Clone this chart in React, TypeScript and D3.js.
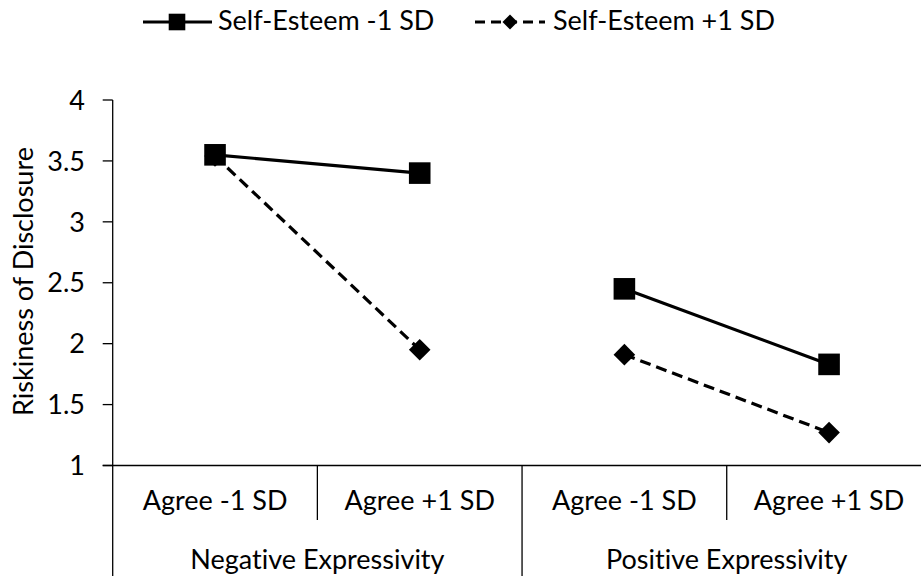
import React from "react";
import * as d3 from "d3";

const categories = ["Agree -1 SD", "Agree +1 SD", "Agree -1 SD", "Agree +1 SD"];
const groups = ["Negative Expressivity", "Positive Expressivity"];
const seriesNames = ["Self-Esteem -1 SD", "Self-Esteem +1 SD"];
const lowSelfEsteem = [3.55, 3.4, 2.45, 1.83];
const highSelfEsteem = [3.54, 1.95, 1.91, 1.27];
const yTicks = [1, 1.5, 2, 2.5, 3, 3.5, 4];

const W = 921;
const H = 576;
const FONT = "Lato, 'Open Sans', sans-serif";
const FS = 27;

export default function App() {
  const idx = categories.map((_, i) => i);
  const x = d3.scaleBand<number>().domain(idx).range([112.7, 931.4]).paddingInner(0).paddingOuter(0);
  const y = d3.scaleLinear().domain([1, 4]).range([465.5, 100]);
  const cx = (i: number) => (x(i) as number) + x.bandwidth() / 2;

  // segments within each group (pairs of categories)
  const segs = (vals: number[]) =>
    groups.map((_, g) => {
      const pts = [g * 2, g * 2 + 1];
      return d3
        .line<number>()
        .x((i) => cx(i))
        .y((i) => y(vals[i]))(pts) as string;
    });

  const x0 = x(0) as number;
  const axisY = y(1);

  const diamond = (px: number, py: number, r: number) =>
    `M${px},${py - r}L${px + r},${py}L${px},${py + r}L${px - r},${py}Z`;

  const textStyle: React.CSSProperties = {
    fontVariantLigatures: "none",
    fontFeatureSettings: '"liga" 0, "clig" 0',
  };

  return (
    <svg
      width={W}
      height={H}
      style={{ position: "absolute", left: 0, top: 0, background: "#fff", ...textStyle }}
      fontFamily={FONT}
    >
      <rect x={0} y={0} width={W} height={H} fill="#fff" />
      {/* Legend */}
      <g>
        <line x1={143} x2={212} y1={22} y2={22} stroke="#000" strokeWidth={3} />
        <rect x={177 - 8.3} y={22 - 8.3} width={16.6} height={16.6} fill="#000" />
        <text x={218} y={30} fontSize={FS} fill="#000" style={textStyle}>
          {seriesNames[0]}
        </text>
        <line x1={475} x2={545} y1={22} y2={22} stroke="#000" strokeWidth={3} strokeDasharray="10,6" />
        <path d={diamond(510, 22, 7.5)} fill="#000" />
        <text x={553} y={30} fontSize={FS} fill="#000" style={textStyle}>
          {seriesNames[1]}
        </text>
      </g>

      {/* Y axis */}
      <line x1={x0} x2={x0} y1={y(4)} y2={H} stroke="#000" strokeWidth={1.3} />
      {yTicks.map((t) => (
        <g key={t}>
          <line x1={x0 - 10} x2={x0} y1={y(t)} y2={y(t)} stroke="#000" strokeWidth={1.3} />
          <text x={85} y={y(t)} dy="0.36em" textAnchor="end" fontSize={FS} fill="#000" style={textStyle}>
            {String(t)}
          </text>
        </g>
      ))}
      <text
        transform={`translate(33,${(148 + 415) / 2}) rotate(-90)`}
        textAnchor="middle"
        fontSize={FS}
        fill="#000"
        style={textStyle}
      >
        Riskiness of Disclosure
      </text>

      {/* X axis */}
      <line x1={x0 - 10} x2={W + 20} y1={axisY} y2={axisY} stroke="#000" strokeWidth={1.3} />
      {idx.map((i) =>
        i % 2 === 1 ? (
          <line
            key={"s" + i}
            x1={x(i) as number}
            x2={x(i) as number}
            y1={axisY}
            y2={520}
            stroke="#000"
            strokeWidth={1.3}
          />
        ) : i > 0 ? (
          <line
            key={"g" + i}
            x1={x(i) as number}
            x2={x(i) as number}
            y1={axisY}
            y2={H}
            stroke="#000"
            strokeWidth={1.3}
          />
        ) : null
      )}
      {categories.map((c, i) => (
        <text key={"c" + i} x={cx(i)} y={510} textAnchor="middle" fontSize={FS} fill="#000" style={textStyle}>
          {c}
        </text>
      ))}
      {groups.map((g, gi) => (
        <text
          key={"gr" + gi}
          x={((x(gi * 2) as number) + (x(gi * 2 + 1) as number) + x.bandwidth()) / 2}
          y={569}
          textAnchor="middle"
          fontSize={FS}
          fill="#000"
          style={textStyle}
        >
          {g}
        </text>
      ))}

      {/* Series */}
      {segs(lowSelfEsteem).map((d, i) => (
        <path key={"l" + i} d={d} fill="none" stroke="#000" strokeWidth={3.2} />
      ))}
      {segs(highSelfEsteem).map((d, i) => (
        <path key={"h" + i} d={d} fill="none" stroke="#000" strokeWidth={3.2} strokeDasharray="11,6" />
      ))}
      {highSelfEsteem.map((v, i) => (
        <path key={"dm" + i} d={diamond(cx(i), y(v), 10.8)} fill="#000" />
      ))}
      {lowSelfEsteem.map((v, i) => (
        <rect key={"sq" + i} x={cx(i) - 10.8} y={y(v) - 10.8} width={21.6} height={21.6} fill="#000" />
      ))}
    </svg>
  );
}
